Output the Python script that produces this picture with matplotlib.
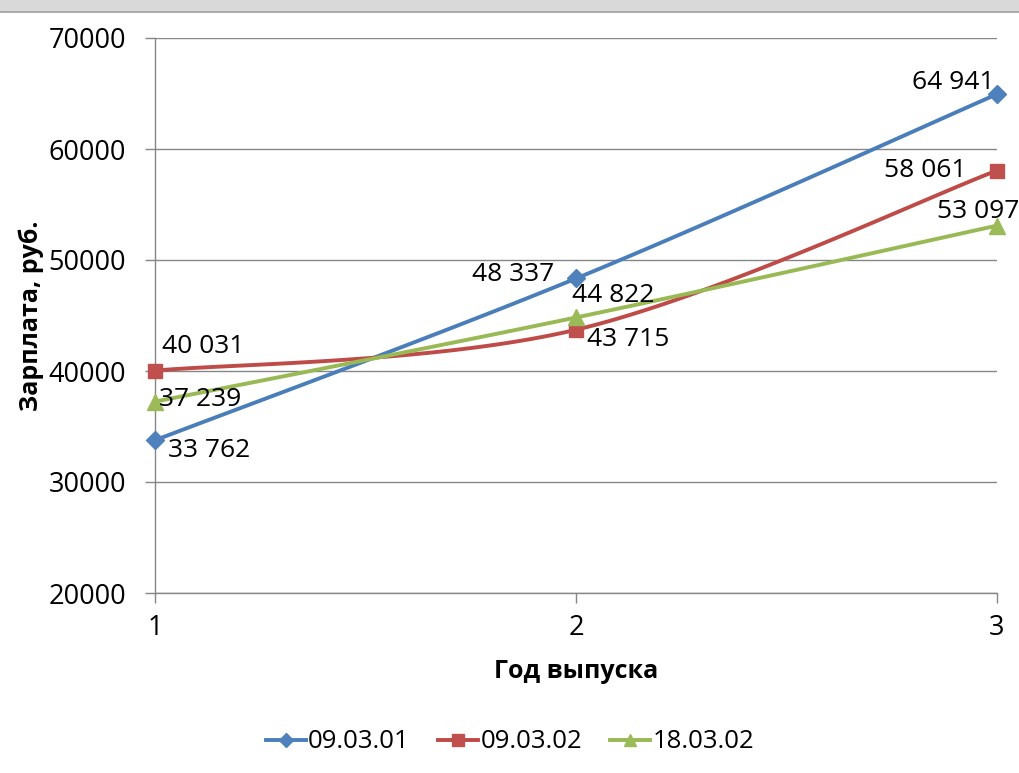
import numpy as np
import matplotlib
matplotlib.use("Agg")
import matplotlib.pyplot as plt
from matplotlib.patches import Rectangle
from matplotlib.lines import Line2D

plt.rcParams['font.family'] = ['Open Sans', 'DejaVu Sans']

years = [1, 2, 3]
s1_name, s2_name, s3_name = "09.03.01", "09.03.02", "18.03.02"
s1 = [33762, 48337, 64941]
s2 = [40031, 43715, 58061]
s3 = [37239, 44822, 53097]
yticks = [20000, 30000, 40000, 50000, 60000, 70000]


def smooth(x, y, n=40):
    x = np.asarray(x, float); y = np.asarray(y, float)
    P = np.column_stack([x, y])
    ext = np.vstack([P[0], P, P[-1]])
    out = []
    for i in range(len(P) - 1):
        p0, p1, p2, p3 = ext[i], ext[i + 1], ext[i + 2], ext[i + 3]
        c1 = p1 + (p2 - p0) / 6.0
        c2 = p2 - (p3 - p1) / 6.0
        t = np.linspace(0, 1, n)[:, None]
        seg = ((1 - t) ** 3) * p1 + 3 * ((1 - t) ** 2) * t * c1 + 3 * (1 - t) * t ** 2 * c2 + t ** 3 * p2
        out.append(seg if i == 0 else seg[1:])
    a = np.vstack(out)
    return a[:, 0], a[:, 1]


fig = plt.figure(figsize=(10.2, 7.73), dpi=100)
ax = fig.add_axes([155 / 1020, 1 - 593 / 773, (997 - 155) / 1020, (593 - 38) / 773])

series = [
    (s1, s1_name, '#4A7EBB', '#4F81BD', 'D', 9),
    (s2, s2_name, '#BE4B48', '#C0504D', 's', 10),
    (s3, s3_name, '#98B954', '#9BBB59', '^', 11),
]
for vals, name, lc, mc, mk, ms in series:
    xs, ys = smooth(years, vals)
    ax.plot(xs, ys, color=lc, lw=2.8, zorder=3, solid_capstyle='round')
    ax.plot(years, vals, ls='none', marker=mk, ms=ms, color=mc, mec=mc, zorder=4, clip_on=False)

ax.set_xlim(1, 3)
ax.set_ylim(20000, 70000)
ax.set_xticks(years)
ax.set_xticklabels([str(v) for v in years])
ax.set_yticks(yticks)
ax.set_yticklabels([str(v) for v in yticks])
ax.grid(axis='y', color='#868686', lw=1.0, zorder=1)
for sp in ['top', 'right']:
    ax.spines[sp].set_visible(False)
for sp in ['left', 'bottom']:
    ax.spines[sp].set_color('#868686')
    ax.spines[sp].set_linewidth(1.0)
ax.tick_params(axis='both', colors='#868686', labelcolor='black', labelsize=19.5, length=7, width=1)
ax.tick_params(axis='x', pad=8)
ax.tick_params(axis='y', pad=14)

ax.set_ylabel("Зарплата, руб.", fontsize=18, fontweight='bold', labelpad=3)
ax.set_xlabel("Год выпуска", fontsize=18, fontweight='bold', labelpad=12)


def fmt(v):
    return f"{v:,}".replace(",", " ")


offs = {
    (0, 0): (13, -10, 'left', 'center'),
    (0, 1): (-22, 4, 'right', 'center'),
    (0, 2): (-2, 12, 'right', 'center'),
    (1, 0): (7, 24, 'left', 'center'),
    (1, 1): (11, -10, 'left', 'center'),
    (1, 2): (-30, 0, 'right', 'center'),
    (2, 0): (4, 2, 'left', 'center'),
    (2, 1): (-4, 22, 'left', 'center'),
    (2, 2): (22, 14, 'right', 'center'),
}
for si, (vals, *_r) in enumerate(series):
    for pi, v in enumerate(vals):
        dx, dy, ha, va = offs[(si, pi)]
        ax.annotate(fmt(v), (years[pi], v), xytext=(dx, dy), textcoords='offset pixels',
                    ha=ha, va=va, fontsize=19, zorder=5, annotation_clip=False)

handles = [Line2D([0], [0], color=lc, lw=2.8, marker=mk, ms=ms * 0.8, mfc=mc, mec=mc)
           for _, _, lc, mc, mk, ms in series]
fig.legend(handles, [s[1] for s in series], loc='center', bbox_to_anchor=(0.5, 1 - 742 / 773),
           ncol=3, frameon=False, fontsize=18.5, handlelength=1.55, handletextpad=0.1, columnspacing=1.1)

fig.patches.append(Rectangle((0, 1 - 11 / 773), 1, 11 / 773, transform=fig.transFigure,
                             color='#d9d9d9', zorder=0))
fig.lines.append(Line2D([0, 1], [1 - 12 / 773, 1 - 12 / 773], transform=fig.transFigure,
                        color='#a0a0a0', lw=1.2))

fig.savefig("out.png", dpi=100)
